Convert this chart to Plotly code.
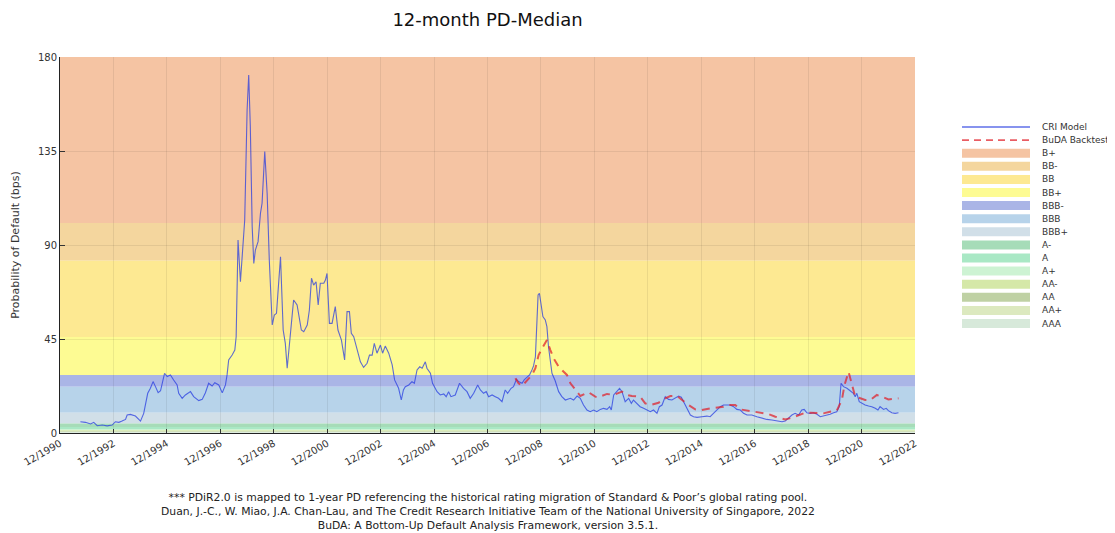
import plotly.graph_objects as go

# ---------------- data ----------------
cri_x = [1991.68, 1991.87, 1992.06, 1992.18, 1992.31, 1992.50, 1992.68, 1992.87, 1992.99, 1993.12,
         1993.24, 1993.37, 1993.43, 1993.55, 1993.74, 1993.93, 1994.05, 1994.12, 1994.20, 1994.30,
         1994.40, 1994.49, 1994.59, 1994.68, 1994.83, 1994.93, 1995.05, 1995.17, 1995.30, 1995.36,
         1995.49, 1995.61, 1995.80, 1995.92, 1996.11, 1996.24, 1996.36, 1996.48, 1996.61, 1996.71,
         1996.86, 1996.99, 1997.11, 1997.17, 1997.23, 1997.36, 1997.46, 1997.51, 1997.58, 1997.67,
         1997.73, 1997.83, 1997.92, 1997.98, 1998.04, 1998.11, 1998.17, 1998.23, 1998.33, 1998.42,
         1998.48, 1998.58, 1998.67, 1998.75, 1998.86, 1998.94, 1999.02, 1999.17, 1999.27, 1999.35,
         1999.42, 1999.54, 1999.66, 1999.79, 1999.95, 2000.04, 2000.17, 2000.25, 2000.33, 2000.41,
         2000.50, 2000.58, 2000.66, 2000.79, 2000.85, 2000.91, 2001.00, 2001.10, 2001.22, 2001.32,
         2001.45, 2001.57, 2001.66, 2001.75, 2001.82, 2001.91, 2002.04, 2002.16, 2002.28, 2002.41,
         2002.50, 2002.60, 2002.68, 2002.78, 2002.91, 2002.99, 2003.09, 2003.22, 2003.35, 2003.44,
         2003.59, 2003.69, 2003.77, 2003.84, 2003.97, 2004.09, 2004.18, 2004.28, 2004.38, 2004.47,
         2004.59, 2004.65, 2004.78, 2004.86, 2005.03, 2005.15, 2005.28, 2005.37, 2005.46, 2005.55,
         2005.71, 2005.87, 2006.02, 2006.15, 2006.27, 2006.40, 2006.55, 2006.65, 2006.77, 2006.87,
         2006.96, 2007.09, 2007.21, 2007.33, 2007.46, 2007.58, 2007.67, 2007.80, 2007.89, 2008.00,
         2008.08, 2008.21, 2008.29, 2008.40, 2008.49, 2008.58, 2008.64, 2008.71, 2008.77, 2008.81,
         2008.86, 2008.92, 2008.99, 2009.08, 2009.14, 2009.20, 2009.27, 2009.33, 2009.45, 2009.58,
         2009.70, 2009.83, 2010.02, 2010.14, 2010.27, 2010.39, 2010.51, 2010.64, 2010.76, 2010.89,
         2011.01, 2011.14, 2011.26, 2011.39, 2011.49, 2011.55, 2011.64, 2011.76, 2011.86, 2011.95,
         2012.07, 2012.20, 2012.30, 2012.38, 2012.51, 2012.63, 2012.76, 2012.89, 2013.01, 2013.13,
         2013.26, 2013.35, 2013.45, 2013.57, 2013.69, 2013.82, 2013.94, 2014.07, 2014.17, 2014.25,
         2014.38, 2014.51, 2014.63, 2014.76, 2014.94, 2015.13, 2015.25, 2015.38, 2015.50, 2015.63,
         2015.75, 2015.88, 2016.00, 2016.13, 2016.25, 2016.38, 2016.50, 2016.63, 2016.81, 2017.00,
         2017.19, 2017.37, 2017.56, 2017.75, 2017.94, 2018.06, 2018.18, 2018.31, 2018.43, 2018.56,
         2018.68, 2018.77, 2018.87, 2018.99, 2019.12, 2019.25, 2019.37, 2019.49, 2019.62, 2019.74,
         2019.87, 2019.99, 2020.08, 2020.15, 2020.24, 2020.37, 2020.49, 2020.61, 2020.68, 2020.74,
         2020.83, 2020.93, 2021.05, 2021.18, 2021.30, 2021.43, 2021.53, 2021.61, 2021.74, 2021.84,
         2021.92, 2022.05, 2022.17, 2022.30]
cri_y = [5.4, 5.1, 4.3, 5.1, 3.5, 3.8, 3.4, 3.8, 5.4, 5.1,
         5.7, 6.5, 8.6, 8.9, 8.1, 5.7, 9.4, 14.2, 19.0, 21.4,
         24.6, 22.2, 19.3, 20.2, 28.6, 27.0, 27.8, 25.4, 23.0, 19.0,
         16.6, 18.2, 19.8, 17.4, 15.5, 16.1, 19.3, 23.8, 22.5, 24.1,
         23.0, 19.2, 23.0, 27.8, 35.0, 37.3, 39.7, 46.1, 92.4, 72.4,
         82.8, 102.0, 154.6, 171.4, 146.6, 98.8, 81.2, 87.6, 91.6, 105.2,
         110.0, 134.7, 114.7, 82.8, 51.7, 56.5, 57.3, 84.4, 49.3, 42.9,
         31.0, 47.7, 63.7, 61.3, 49.3, 48.5, 51.7, 58.9, 74.1, 70.8,
         72.4, 61.3, 71.7, 71.7, 73.2, 76.4, 52.5, 52.5, 60.5, 49.3,
         44.5, 35.0, 58.1, 58.1, 47.7, 46.1, 39.7, 34.1, 31.4, 33.4,
         37.3, 37.3, 42.9, 38.2, 42.1, 38.2, 41.6, 38.2, 32.6, 25.4,
         21.4, 15.8, 20.6, 22.2, 23.0, 24.6, 23.8, 30.2, 31.7, 31.0,
         34.1, 31.0, 28.6, 23.8, 19.8, 18.2, 18.7, 17.4, 19.8, 17.4,
         18.2, 23.8, 21.4, 19.8, 16.6, 19.0, 23.0, 20.6, 19.0, 19.8,
         17.4, 18.2, 17.4, 16.6, 15.0, 20.6, 19.0, 21.4, 22.2, 25.7,
         24.6, 23.8, 25.4, 27.0, 27.8, 30.2, 32.1, 36.5, 54.1, 66.1,
         66.9, 60.5, 55.7, 54.1, 50.9, 41.3, 33.4, 28.6, 25.0, 19.8,
         17.4, 15.8, 16.6, 15.8, 17.7, 16.6, 13.4, 11.0, 10.2, 11.0,
         10.2, 11.3, 11.8, 11.3, 12.6, 11.0, 18.2, 19.8, 21.4, 19.8,
         15.0, 16.6, 14.2, 15.8, 14.2, 12.6, 11.8, 11.0, 10.2, 11.0,
         9.4, 12.6, 13.4, 17.4, 16.1, 15.8, 16.6, 17.7, 17.1, 15.0,
         11.8, 8.6, 7.8, 7.5, 7.8, 8.1, 7.8, 9.4, 11.0, 12.6,
         13.4, 13.4, 13.4, 12.6, 11.3, 11.0, 9.4, 8.6, 8.6, 7.8,
         7.0, 6.5, 6.2, 5.7, 5.4, 5.7, 7.0, 8.6, 9.4, 8.6,
         11.0, 11.3, 9.7, 9.4, 9.7, 9.0, 7.8, 8.1, 8.6, 9.0,
         9.7, 10.2, 12.6, 23.8, 22.2, 21.4, 20.2, 19.0, 17.4, 19.0,
         15.0, 14.2, 13.4, 12.9, 12.6, 11.8, 11.0, 12.6, 11.3, 11.8,
         10.7, 9.7, 9.4, 9.7]

buda_x = [2007.96, 2008.08, 2008.21, 2008.40, 2008.58, 2008.71, 2008.83, 2008.96, 2009.14, 2009.27,
          2009.39, 2009.58, 2009.89, 2010.02, 2010.27, 2010.39, 2010.70, 2010.95, 2011.07, 2011.39,
          2011.64, 2011.95, 2012.14, 2012.32, 2012.63, 2012.82, 2013.01, 2013.32, 2013.57, 2013.76,
          2014.01, 2014.19, 2014.44, 2014.69, 2014.94, 2015.25, 2015.56, 2015.75, 2015.94, 2016.19,
          2016.38, 2016.69, 2016.94, 2017.19, 2017.43, 2017.69, 2017.87, 2018.06, 2018.31, 2018.56,
          2018.81, 2018.99, 2019.25, 2019.49, 2019.74, 2019.99, 2020.18, 2020.28, 2020.43, 2020.55,
          2020.68, 2020.87, 2021.05, 2021.24, 2021.49, 2021.74, 2021.92, 2022.30]
buda_y = [26.2, 23.8, 22.5, 25.4, 27.8, 31.0, 37.3, 40.5, 44.5, 39.7,
          35.8, 31.7, 27.8, 23.8, 19.8, 17.7, 19.5, 17.4, 17.1, 18.7,
          18.2, 19.8, 18.2, 17.7, 17.4, 14.2, 13.4, 14.5, 16.6, 17.7,
          17.7, 15.8, 13.4, 11.3, 11.0, 11.8, 12.3, 12.6, 13.4, 13.4,
          11.3, 10.7, 10.2, 9.4, 9.1, 7.8, 7.0, 6.5, 7.3, 8.6,
          9.7, 9.7, 9.7, 9.4, 10.2, 10.7, 15.8, 23.0, 29.3, 23.0,
          17.4, 16.6, 15.8, 15.8, 18.2, 17.1, 16.1, 16.6]

band_labels = ["B+", "BB-", "BB", "BB+", "BBB-", "BBB", "BBB+", "A-", "A", "A+", "AA-", "AA", "AA+", "AAA"]
band_upper = [180.0, 100.5, 82.5, 46.0, 27.8, 22.2, 9.7, 4.6, 2.9, 1.9, 1.3, 0.9, 0.6, 0.3]
band_lower = [100.5, 82.5, 46.0, 27.8, 22.2, 9.7, 4.6, 2.9, 1.9, 1.3, 0.9, 0.6, 0.3, 0.0]
band_colors = ["#f5c4a3", "#f4d69e", "#fde992", "#fdfb93", "#aab5e6", "#b7d3ea", "#d1dfe8",
               "#a6dcb8", "#a9e8c5", "#cdf3d3", "#d5e8a8", "#bfd1a4", "#dce9bf", "#d7e9da"]

x_tickvals = [1990.917 + 2 * k for k in range(17)]
x_ticktext = ["12/%d" % (1990 + 2 * k) for k in range(17)]
y_tickvals = [0, 45, 90, 135, 180]

series_names = ["CRI Model", "BuDA Backtest"]
cri_color = "rgba(35,55,225,0.72)"
buda_color = "rgba(225,30,40,0.72)"

FONT = "DejaVu Sans"
FIG_W, FIG_H = 1107, 525
ML, MR, MT, MB = 52, 200, 49, 100

fig = go.Figure()
fig.add_trace(go.Scatter(x=cri_x, y=cri_y, mode="lines", name=series_names[0],
                         line=dict(color=cri_color, width=1.1), showlegend=False))
fig.add_trace(go.Scatter(x=buda_x, y=buda_y, mode="lines", name=series_names[1],
                         line=dict(color=buda_color, width=2, dash="8px,6px"), showlegend=False))

shapes = []
for lab, up, lo, col in zip(band_labels, band_upper, band_lower, band_colors):
    shapes.append(dict(type="rect", xref="paper", yref="y", x0=0, x1=1, y0=lo, y1=up,
                       fillcolor=col, line=dict(width=0), layer="below"))

# manual legend (paper coordinates)
W = FIG_W - ML - MR
H = FIG_H - MT - MB
lx0, lx1, ltx = 902 / W, 970 / W, 980 / W
ly0 = 306 / H
step = 13.1 / H
annotations = []
legend_items = [(series_names[0], "line", cri_color, "solid"),
                (series_names[1], "line", buda_color, "dash")]
legend_items += [(lab, "rect", col, None) for lab, col in zip(band_labels, band_colors)]
for i, (lab, kind, col, dash) in enumerate(legend_items):
    yc = ly0 - i * step
    if kind == "line":
        shapes.append(dict(type="line", xref="paper", yref="paper", x0=lx0, x1=lx1, y0=yc, y1=yc,
                           line=dict(color=col, width=1.5 if dash == "solid" else 1.8,
                                     dash="solid" if dash == "solid" else "7px,5px")))
    else:
        shapes.append(dict(type="rect", xref="paper", yref="paper", x0=lx0, x1=lx1,
                           y0=yc - 4.5 / H, y1=yc + 4.5 / H, fillcolor=col, line=dict(width=0)))
    annotations.append(dict(xref="paper", yref="paper", x=ltx, y=yc, text=lab, showarrow=False,
                            xanchor="left", yanchor="middle", font=dict(family=FONT, size=9, color="#333")))

annotations.append(dict(
    xref="paper", yref="paper", x=0.5, y=-0.21, xanchor="center", yanchor="middle", showarrow=False,
    text=("*** PDiR2.0 is mapped to 1-year PD referencing the historical rating migration of Standard &amp; Poor\u2019s global rating pool.<br>"
          "Duan, J.-C., W. Miao, J.A. Chan-Lau, and The Credit Research Initiative Team of the National University of Singapore, 2022<br>"
          "BuDA: A Bottom-Up Default Analysis Framework, version 3.5.1."),
    font=dict(family=FONT, size=10.8, color="#222")))

fig.update_layout(
    width=FIG_W, height=FIG_H,
    margin=dict(l=ML, r=MR, t=MT, b=MB),
    paper_bgcolor="white", plot_bgcolor="white",
    font=dict(family=FONT, color="#333"),
    title=dict(text="12-month PD-Median", x=0.5, xref="paper", xanchor="center",
               y=1 - 12 / FIG_H, yref="container", yanchor="middle",
               font=dict(family=FONT, size=18, color="#111")),
    shapes=shapes, annotations=annotations, showlegend=False,
)
fig.update_xaxes(range=[1990.917, 2022.917], tickvals=x_tickvals, ticktext=x_ticktext, tickangle=-30,
                 ticks="inside", ticklen=4, tickcolor="#333", showline=True, linecolor="#222", linewidth=1,
                 showgrid=True, gridcolor="rgba(0,0,0,0.07)", zeroline=False,
                 tickfont=dict(family=FONT, size=10, color="#333"), automargin=False)
fig.update_yaxes(range=[0, 180], tickvals=y_tickvals, ticks="inside", ticklen=5, tickcolor="#333",
                 showline=True, linecolor="#222", linewidth=1, showgrid=True, gridcolor="rgba(0,0,0,0.07)",
                 zeroline=False, tickfont=dict(family=FONT, size=10, color="#333"),
                 title=dict(text="Probability of Default (bps)", font=dict(family=FONT, size=11, color="#333"),
                            standoff=16),
                 automargin=False)

fig.write_html("out.html")
